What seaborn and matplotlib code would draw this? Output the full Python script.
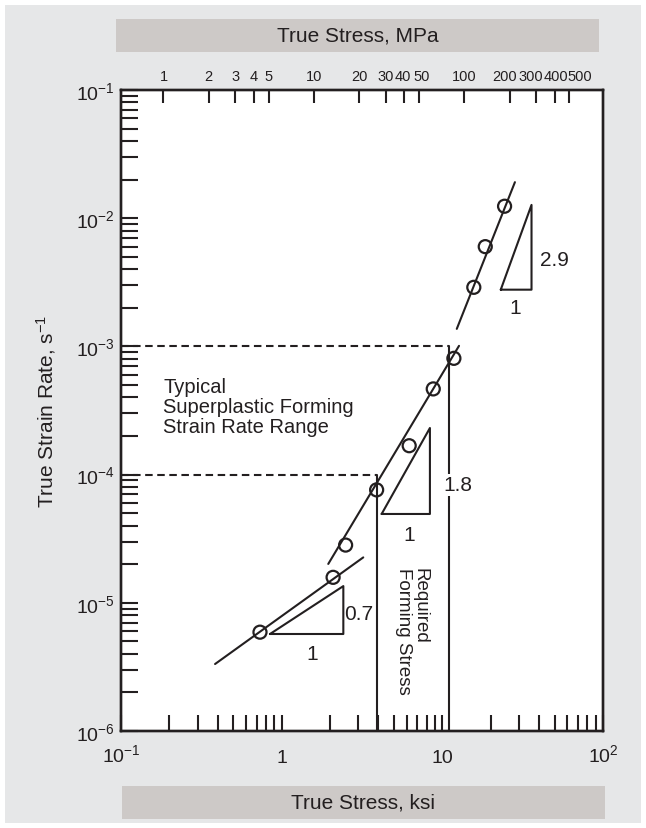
import numpy as np
import pandas as pd
import matplotlib
matplotlib.use("Agg")
import matplotlib.pyplot as plt
from matplotlib.patches import Rectangle
from matplotlib.transforms import ScaledTranslation
from matplotlib.ticker import LogLocator, NullFormatter, NullLocator
import seaborn as sns

# ---------------- data ----------------
stress_ksi = [0.733, 2.09, 2.50, 3.90, 6.22, 8.78, 11.8, 15.7, 18.5, 24.4]
strain_rate = [5.9e-6, 1.58e-5, 2.82e-5, 7.6e-5, 1.68e-4, 4.66e-4, 8.07e-4,
               2.89e-3, 6.0e-3, 1.24e-2]

fit_low_ksi = [0.385, 3.22]
fit_low_rate = [3.33e-6, 2.26e-5]
fit_mid_ksi = [1.95, 12.7]
fit_mid_rate = [2.01e-5, 1.01e-3]
fit_high_ksi = [12.3, 28.3]
fit_high_rate = [1.37e-3, 1.91e-2]

tri_low_ksi = [0.846, 2.42, 2.42, 0.846]
tri_low_rate = [5.71e-6, 5.71e-6, 1.35e-5, 5.71e-6]
tri_mid_ksi = [4.19, 8.37, 8.37, 4.19]
tri_mid_rate = [4.93e-5, 4.93e-5, 2.31e-4, 4.93e-5]
tri_high_ksi = [23.1, 35.9, 35.9, 23.1]
tri_high_rate = [2.77e-3, 2.77e-3, 1.27e-2, 2.77e-3]
slope_labels = ["0.7", "1.8", "2.9"]

range_rates = [1e-4, 1e-3]          # typical superplastic strain-rate range
forming_ksi = [3.92, 11.0]          # required forming stress bounds

ksi_ticks = [0.1, 1, 10, 100]
ksi_labels = [r"$\mathregular{10^{-1}}$", "1", "10", r"$\mathregular{10^{2}}$"]
mpa_ticks = [1, 2, 3, 4, 5, 10, 20, 30, 40, 50, 100, 200, 300, 400, 500]
mpa_limits = [0.522, 836]           # top scale as drawn in the reference
rate_ticks = [1e-6, 1e-5, 1e-4, 1e-3, 1e-2, 1e-1]
rate_labels = [r"$\mathregular{10^{-6}}$", r"$\mathregular{10^{-5}}$",
               r"$\mathregular{10^{-4}}$", r"$\mathregular{10^{-3}}$",
               r"$\mathregular{10^{-2}}$", r"$\mathregular{10^{-1}}$"]

# ---------------- style ----------------
sns.set_theme(style="ticks")
plt.rcParams["font.family"] = ["Liberation Sans", "DejaVu Sans"]
plt.rcParams["mathtext.fontset"] = "custom"
plt.rcParams["mathtext.rm"] = "Liberation Sans"
plt.rcParams["mathtext.it"] = "Liberation Sans:italic"
plt.rcParams["mathtext.bf"] = "Liberation Sans:bold"
INK = "#231f20"
PANEL = "#e6e7e8"
BAND = "#cdc9c7"
LW = 1.5

fig = plt.figure(figsize=(6.46, 8.29), dpi=100, facecolor="white")
W, H = 646, 829

def fx(px):
    return px / W

def fy(py):
    return 1 - py / H

# background panel and title bands
fig.patches.append(Rectangle((fx(5), fy(824)), fx(636), 818 / H, transform=fig.transFigure,
                             facecolor=PANEL, edgecolor="none", zorder=-10))
fig.patches.append(Rectangle((fx(116), fy(53)), fx(483), 33 / H, transform=fig.transFigure,
                             facecolor=BAND, edgecolor="none", zorder=-9))
fig.patches.append(Rectangle((fx(122), fy(820)), fx(483), 33 / H, transform=fig.transFigure,
                             facecolor=BAND, edgecolor="none", zorder=-9))
fig.text(fx(357.5), fy(36.5), "True Stress, MPa", ha="center", va="center",
         fontsize=15, color=INK)
fig.text(fx(363.5), fy(803.5), "True Stress, ksi", ha="center", va="center",
         fontsize=15, color=INK)

ax = fig.add_axes([fx(121), fy(732), fx(603 - 121), (732 - 91) / H])
ax.set_facecolor("white")
ax.set_xscale("log")
ax.set_yscale("log")
ax.set_xlim(0.1, 100)
ax.set_ylim(1e-6, 1e-1)

# fitted lines
for xs, ys in [(fit_low_ksi, fit_low_rate), (fit_mid_ksi, fit_mid_rate),
               (fit_high_ksi, fit_high_rate)]:
    sns.lineplot(x=xs, y=ys, ax=ax, color=INK, linewidth=LW, estimator=None,
                 sort=False, legend=False)

# slope triangles
for xs, ys in [(tri_low_ksi, tri_low_rate), (tri_mid_ksi, tri_mid_rate),
               (tri_high_ksi, tri_high_rate)]:
    sns.lineplot(x=xs, y=ys, ax=ax, color=INK, linewidth=LW, estimator=None,
                 sort=False, legend=False)

# dashed strain-rate range lines and forming stress verticals
for r, s in zip(range_rates, forming_ksi):
    ax.plot([0.1, s], [r, r], color=INK, linewidth=LW, linestyle=(0, (3.6, 2.2)))
    ax.plot([s, s], [1e-6, r], color=INK, linewidth=LW)

# data points
sns.scatterplot(x=stress_ksi, y=strain_rate, ax=ax, marker="o", s=88,
                facecolors="none", edgecolor=INK, linewidth=1.6, zorder=4, legend=False)

# annotations
NUM = 15
ax.text(2.45, 8.3e-6, slope_labels[0], fontsize=NUM, color=INK, ha="left", va="center")
ax.text(1.54, 4.0e-6, "1", fontsize=NUM, color=INK, ha="center", va="center")
ax.text(10.1, 8.3e-5, slope_labels[1], fontsize=NUM, color=INK, ha="left", va="center",
        bbox=dict(facecolor="white", edgecolor="none", pad=1.0), zorder=3)
ax.text(6.22, 3.44e-5, "1", fontsize=NUM, color=INK, ha="center", va="center")
ax.text(40.5, 4.8e-3, slope_labels[2], fontsize=NUM, color=INK, ha="left", va="center")
ax.text(28.3, 2.02e-3, "1", fontsize=NUM, color=INK, ha="center", va="center")
ax.text(0.183, 5.75e-4, "Typical\nSuperplastic Forming\nStrain Rate Range",
        fontsize=14.5, color=INK, ha="left", va="top", linespacing=1.07)
ax.text(6.47, 1.9e-5, "Required\nForming Stress", fontsize=13.5, color=INK,
        rotation=270, ha="center", va="top", multialignment="left", linespacing=1.0)

# axes: bottom (ksi) and left (strain rate)
ax.set_xticks(ksi_ticks, labels=ksi_labels)
ax.xaxis.set_minor_locator(LogLocator(base=10, subs=np.arange(2, 10)))
ax.xaxis.set_minor_formatter(NullFormatter())
ax.set_yticks(rate_ticks, labels=rate_labels)
ax.yaxis.set_minor_locator(LogLocator(base=10, subs=np.arange(2, 10)))
ax.yaxis.set_minor_formatter(NullFormatter())
ax.tick_params(axis="x", which="both", direction="in", bottom=True, top=False,
               length=11.5, width=LW, color=INK)
ax.tick_params(axis="x", which="major", labelsize=14, labelcolor=INK, pad=22)
ax.tick_params(axis="y", which="both", direction="in", left=True, right=False,
               length=12.5, width=LW, color=INK)
ax.tick_params(axis="y", which="major", labelsize=14, labelcolor=INK, pad=4.5)
for lab in ax.get_xticklabels():
    lab.set_verticalalignment("baseline")
for sp in ax.spines.values():
    sp.set_visible(True)
    sp.set_linewidth(1.7)
    sp.set_color(INK)
ax.set_xlabel("")
ax.set_ylabel(r"True Strain Rate, $\mathregular{s^{-1}}$", fontsize=15, color=INK)
ax.yaxis.set_label_coords((58 - 121) / 482, 0.5)

# top axis (MPa)
ax2 = ax.twiny()
ax2.set_xscale("log")
ax2.set_xlim(*mpa_limits)
ax2.set_xticks(mpa_ticks, labels=[str(v) for v in mpa_ticks])
ax2.xaxis.set_minor_locator(NullLocator())
ax2.tick_params(axis="x", which="major", direction="in", top=True, bottom=False,
                labeltop=True, labelbottom=False, length=9.5, width=LW, color=INK,
                labelsize=10.5, labelcolor=INK, pad=5)
# nudge the crowded labels apart, as in the reference
nudge_px = {40: -1.5, 50: 2.5, 200: -5, 300: -5, 400: 1, 500: 10}
for tick_val, tick in zip(mpa_ticks, ax2.xaxis.get_major_ticks()):
    if tick_val in nudge_px:
        lab = tick.label2
        lab.set_transform(lab.get_transform() +
                          ScaledTranslation(nudge_px[tick_val] / 100, 0, fig.dpi_scale_trans))
for sp in ax2.spines.values():
    sp.set_linewidth(1.7)
    sp.set_color(INK)

fig.savefig("out.png", dpi=100, facecolor="white")
